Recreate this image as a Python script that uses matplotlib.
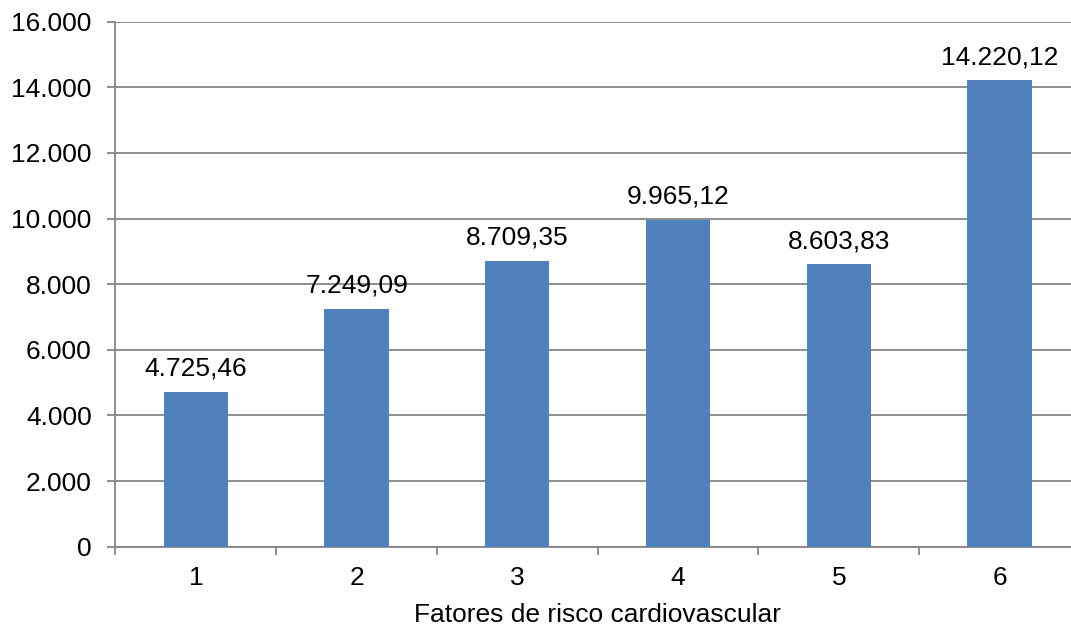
import matplotlib.pyplot as plt
import numpy as np

categorias = ['1', '2', '3', '4', '5', '6']
valores = [4725.46, 7249.09, 8709.35, 9965.12, 8603.83, 14220.12]
yticks = [0, 2000, 4000, 6000, 8000, 10000, 12000, 14000, 16000]


def fmt_br(v, dec=2):
    s = f"{v:,.{dec}f}"
    return s.replace(',', 'X').replace('.', ',').replace('X', '.')


plt.rcParams['font.family'] = ['Liberation Sans', 'DejaVu Sans']
cinza = '#868686'
fs = 19

fig = plt.figure(figsize=(10.71, 6.3), dpi=100)
ax = fig.add_axes([0.1078, 0.1322, 0.9006, 0.8333])

x = np.arange(len(categorias))
barras = ax.bar(x, valores, width=0.4, color='#4F81BD', zorder=3)

for xi, v in zip(x, valores):
    ax.annotate(fmt_br(v), (xi, v), xytext=(0, 11.5), textcoords='offset points',
                ha='center', va='baseline', fontsize=fs)

ax.set_xlim(-0.5, len(categorias) - 0.5)
ax.set_ylim(0, 16000)
ax.set_yticks(yticks)
ax.set_yticklabels([fmt_br(t, 0) for t in yticks], fontsize=fs)
ax.yaxis.grid(True, color=cinza, linewidth=1.3, zorder=0)

ax.set_xticks(x)
ax.set_xticklabels(categorias, fontsize=fs)
ax.set_xticks(np.arange(-0.5, len(categorias), 1), minor=True)
ax.tick_params(axis='x', which='major', length=0, pad=14)
ax.tick_params(axis='x', which='minor', length=6, color=cinza, width=1.3)
ax.tick_params(axis='y', length=6, color=cinza, width=1.3, pad=11)

for lado in ['top', 'right']:
    ax.spines[lado].set_visible(False)
for lado in ['left', 'bottom']:
    ax.spines[lado].set_color(cinza)
    ax.spines[lado].set_linewidth(1.3)

ax.set_xlabel('Fatores de risco cardiovascular', fontsize=fs, labelpad=9)

fig.savefig('out.png', dpi=100)
